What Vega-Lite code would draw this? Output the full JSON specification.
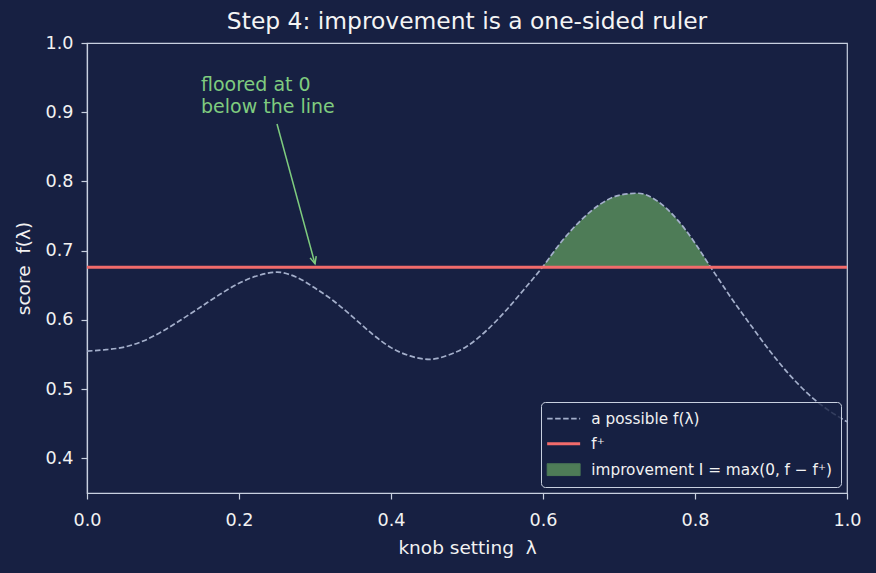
{
  "$schema": "https://vega.github.io/schema/vega-lite/v6.json",
  "width": 760,
  "height": 450,
  "autosize": "none",
  "padding": {"left": 87, "top": 43, "right": 29, "bottom": 80},
  "background": "#172042",
  "title": {
    "text": "Step 4: improvement is a one-sided ruler",
    "font": "DejaVu Sans",
    "fontSize": 23.4,
    "fontWeight": "normal",
    "color": "#f4f4f4",
    "baseline": "top",
    "offset": 0
  },
  "datasets": {
    "curve": [
      {"lam": 0.0, "f": 0.555}, {"lam": 0.025, "f": 0.557}, {"lam": 0.05, "f": 0.561},
      {"lam": 0.075, "f": 0.57}, {"lam": 0.1, "f": 0.584}, {"lam": 0.125, "f": 0.601},
      {"lam": 0.15, "f": 0.619}, {"lam": 0.175, "f": 0.637}, {"lam": 0.2, "f": 0.653},
      {"lam": 0.225, "f": 0.664}, {"lam": 0.25, "f": 0.669}, {"lam": 0.275, "f": 0.662},
      {"lam": 0.3, "f": 0.646}, {"lam": 0.325, "f": 0.627}, {"lam": 0.35, "f": 0.604},
      {"lam": 0.375, "f": 0.58}, {"lam": 0.4, "f": 0.56}, {"lam": 0.425, "f": 0.548},
      {"lam": 0.45, "f": 0.543}, {"lam": 0.475, "f": 0.549}, {"lam": 0.5, "f": 0.562},
      {"lam": 0.525, "f": 0.584}, {"lam": 0.55, "f": 0.612}, {"lam": 0.575, "f": 0.644},
      {"lam": 0.5992, "f": 0.676}, {"lam": 0.625, "f": 0.714},
      {"lam": 0.65, "f": 0.744}, {"lam": 0.675, "f": 0.767}, {"lam": 0.7, "f": 0.78},
      {"lam": 0.725, "f": 0.783}, {"lam": 0.75, "f": 0.772}, {"lam": 0.775, "f": 0.747},
      {"lam": 0.8, "f": 0.711}, {"lam": 0.8207, "f": 0.676}, {"lam": 0.825, "f": 0.669},
      {"lam": 0.85, "f": 0.628}, {"lam": 0.875, "f": 0.59}, {"lam": 0.9, "f": 0.553},
      {"lam": 0.925, "f": 0.52}, {"lam": 0.95, "f": 0.492}, {"lam": 0.975, "f": 0.47},
      {"lam": 1.0, "f": 0.453}
    ],
    "best": [{"fplus": 0.676}],
    "arrow": [{"x": 0.25, "y": 0.883, "x2": 0.3, "y2": 0.681}],
    "note": [{"tx": 0.15, "ty": 0.952, "label": "floored at 0\nbelow the line"}]
  },
  "data": {"name": "curve"},
  "encoding": {
    "x": {
      "field": "lam", "type": "quantitative",
      "scale": {"domain": [0, 1], "nice": false, "zero": false},
      "axis": {"title": "knob setting\u00a0 λ", "values": [0, 0.2, 0.4, 0.6, 0.8, 1.0], "format": ".1f", "labelFlush": false}
    },
    "y": {
      "field": "f", "type": "quantitative",
      "scale": {"domain": [0.35, 1.0], "nice": false, "zero": false},
      "axis": {"title": "score\u00a0 f(λ)", "values": [0.4, 0.5, 0.6, 0.7, 0.8, 0.9, 1.0], "format": ".1f"}
    }
  },
  "layer": [
    {
      "transform": [{"filter": "datum.f >= 0.676"}],
      "mark": {"type": "area", "interpolate": "monotone", "opacity": 1},
      "encoding": {
        "y2": {"datum": 0.676},
        "color": {"datum": "imp", "type": "nominal"}
      }
    },
    {
      "mark": {"type": "line", "interpolate": "monotone", "strokeDash": [5.5, 2.5], "strokeWidth": 1.7},
      "encoding": {
        "color": {
          "datum": "curve", "type": "nominal",
          "scale": {"domain": ["curve", "best", "imp"], "range": ["#a4afcb", "#f26b6b", "#4e7c57"]},
          "legend": {
            "title": null,
            "orient": "none",
            "legendX": 454,
            "legendY": 359,
            "padding": 9,
            "strokeColor": "#c8d0e0",
            "fillColor": "rgba(23,32,66,0.8)",
            "cornerRadius": 4,
            "labelColor": "#f2f2f2",
            "labelFont": "DejaVu Sans",
            "labelFontSize": 15.3,
            "symbolOffset": 6,
            "labelOffset": 20,
            "labelLimit": 400,
            "rowPadding": 9,
            "symbolSize": 1089,
            "labelExpr": "datum.value === 'curve' ? 'a possible f(λ)' : datum.value === 'best' ? 'f⁺' : 'improvement I = max(0, f − f⁺)'",
            "encode": {
              "symbols": {
                "update": {
                  "shape": {"signal": "datum.value === 'imp' ? 'M-1,-0.36H1V0.36H-1Z' : 'M-1,0H1'"},
                  "fill": {"signal": "datum.value === 'imp' ? '#4e7c57' : 'transparent'"},
                  "stroke": {"signal": "datum.value === 'curve' ? '#a4afcb' : datum.value === 'best' ? '#f26b6b' : '#6da871'"},
                  "strokeWidth": {"signal": "datum.value === 'best' ? 3 : datum.value === 'curve' ? 1.7 : 1"},
                  "strokeDash": {"signal": "datum.value === 'curve' ? [5.5, 2.5] : [1, 0]"},
                  "opacity": {"value": 1}
                }
              }
            }
          }
        }
      }
    },
    {
      "data": {"name": "best"},
      "mark": {"type": "rule", "strokeWidth": 3},
      "encoding": {
        "x": null,
        "y": {"field": "fplus", "type": "quantitative"},
        "color": {"datum": "best", "type": "nominal"}
      }
    },
    {
      "data": {"name": "arrow"},
      "mark": {"type": "rule", "color": "#7fcc7f", "strokeWidth": 1.5},
      "encoding": {
        "x": {"field": "x", "type": "quantitative"},
        "y": {"field": "y", "type": "quantitative"},
        "x2": {"field": "x2"},
        "y2": {"field": "y2"}
      }
    },
    {
      "data": {"name": "arrow"},
      "mark": {"type": "point", "shape": "M-0.45,-1L0,0L0.45,-1", "filled": false, "stroke": "#7fcc7f", "strokeWidth": 1.5, "size": 200, "angle": -15.3, "opacity": 1},
      "encoding": {
        "x": {"field": "x2", "type": "quantitative"},
        "y": {"field": "y2", "type": "quantitative"}
      }
    },
    {
      "data": {"name": "note"},
      "mark": {"type": "text", "align": "left", "baseline": "top", "font": "DejaVu Sans", "fontSize": 19, "lineHeight": 22, "lineBreak": "\n", "color": "#7fcc7f"},
      "encoding": {
        "x": {"field": "tx", "type": "quantitative"},
        "y": {"field": "ty", "type": "quantitative"},
        "text": {"field": "label"}
      }
    }
  ],
  "config": {
    "font": "DejaVu Sans",
    "view": {"stroke": "#c8d0e0", "strokeWidth": 1.2},
    "axis": {
      "grid": false,
      "domainColor": "#c8d0e0",
      "domainWidth": 1.2,
      "tickColor": "#c8d0e0",
      "tickWidth": 1.2,
      "tickSize": 6,
      "labelColor": "#f2f2f2",
      "labelFontSize": 17.6,
      "labelFont": "DejaVu Sans",
      "titleColor": "#f2f2f2",
      "titleFontSize": 18.5,
      "titleFont": "DejaVu Sans",
      "titleFontWeight": "normal"
    },
    "axisX": {"labelPadding": 12, "titlePadding": 10},
    "axisY": {"labelPadding": 8, "titlePadding": 12}
  }
}
